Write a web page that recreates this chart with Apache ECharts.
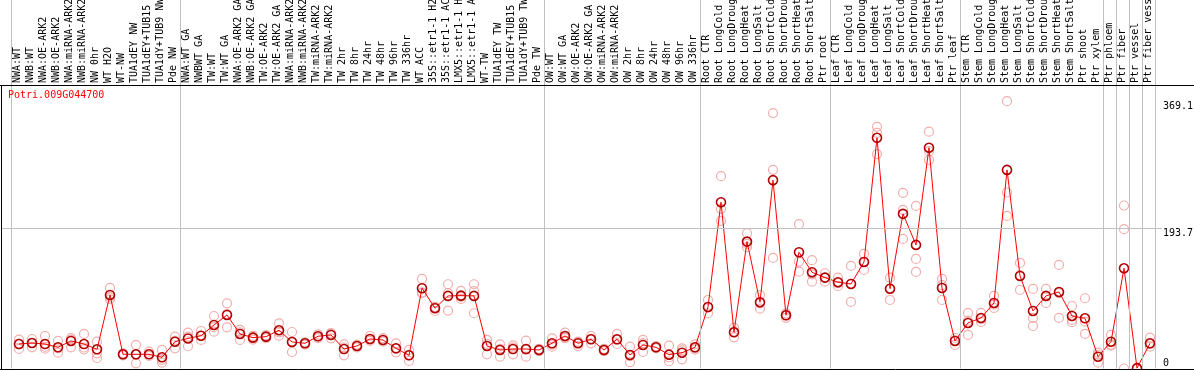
<!DOCTYPE html>
<html>
<head>
<meta charset="utf-8">
<script src="https://cdn.jsdelivr.net/npm/echarts@6/dist/echarts.min.js"></script>
<style>
html,body{margin:0;padding:0;background:#fff;}
#c{width:1194px;height:370px;}
</style>
</head>
<body>
<div id="c"></div>
<script>
const geneName = 'Potri.009G044700';
const categories = [
 'NWA:WT','NWB:WT','NWA:OE-ARK2','NWB:OE-ARK2','NWA:miRNA-ARK2','NWB:miRNA-ARK2','NW 0hr','WT H2O','WT-NW','TUA1dEY NW','TUA1dEY+TUB15 NW','TUA1dY+TUB9 NW','Pde NW',
 'NWA:WT GA','NWBWT GA','TW:WT','TW:WT GA','NWA:OE-ARK2 GA','NWB:OE-ARK2 GA','TW:OE-ARK2','TW:OE-ARK2 GA','NWA:miRNA-ARK2','NWB:miRNA-ARK2','TW:miRNA-ARK2','TW:miRNA-ARK2',
 'TW 2hr','TW 8hr','TW 24hr','TW 48hr','TW 96hr','TW 336hr','WT ACC','35S::etr1-1 H2O','35S::etr1-1 ACC','LMX5::etr1-1 H2O','LMX5::etr1-1 ACC','WT-TW','TUA1dEY TW','TUA1dEY+TUB15 TW','TUA1dY+TUB9 TW','Pde TW',
 'OW:WT','OW:WT GA','OW:OE-ARK2','OW:OE-ARK2 GA','OW:miRNA-ARK2','OW:miRNA-ARK2','OW 2hr','OW 8hr','OW 24hr','OW 48hr','OW 96hr','OW 336hr',
 'Root CTR','Root LongCold','Root LongDrought','Root LongHeat','Root LongSalt','Root ShortCold','Root ShortDrought','Root ShortHeat','Root ShortSalt','Ptr root',
 'Leaf CTR','Leaf LongCold','Leaf LongDrought','Leaf LongHeat','Leaf LongSalt','Leaf ShortCold','Leaf ShortDrought','Leaf ShortHeat','Leaf ShortSalt','Ptr leaf',
 'Stem CTR','Stem LongCold','Stem LongDrought','Stem LongHeat','Stem LongSalt','Stem ShortCold','Stem ShortDrought','Stem ShortHeat','Stem ShortSalt','Ptr shoot',
 'Ptr xylem','Ptr phloem','Ptr fiber','Ptr vessel','Ptr fiber vessel'
];
const means = [
 33.8,35.2,33.8,29.3,38,33.8,26.5,101.5,19.6,19.6,19.6,15.5,37,
 41.5,45.3,60.1,73.9,47.7,42.6,44,52.8,36.6,34.8,44.5,46.3,
 26.9,31.1,40.8,39.4,27.9,18.2,110.8,83.2,100.2,100.6,100.2,31.1,25.6,26.9,26.9,25.6,
 34.8,44.9,34.8,40.3,25.6,40.3,18.7,32.5,29.3,19.1,21.8,29.3,
 85,229.6,50,175.2,91.5,260,73.5,160.5,132.9,125.5,
 119.1,116.7,147.1,318.5,110.2,213.5,170.6,304.8,111.2,38,
 62.9,69.8,90.5,274.2,127.8,79.4,100.2,105.7,72.5,69.3,
 16.3,37,138.4,0.5,34.8
];
const replicates = [
 [40,27,34],[40.7,29.3,35],[44.9,27.4,30],[38,21.9,28],[42.1,29.3,40],[47.7,26.5,29],[37,21,14.5],[111.2,95.6,98],[19.6,21,18],[32.5,7.2,19],[23.2,17.3,20],[25.6,8,12],[44,27.9,38],
 [49.5,30.7,44],[51.8,39.4,45],[72.5,50.8,57],[90,56.9,75],[53.2,39.4,50],[45,40,43],[46,42,44],[62.4,45.3,50],[50.4,22.8,37],[36,33,35],[47,42,44.5],[48,41.7,49],
 [33.4,18.2,29],[33,29,31],[44.9,38,40],[42,37,39],[34.8,22.4,27],[25.6,10.4,18.5],[123.7,103.9,105],[85,79.4,84],[116.3,79.9,104],[107.1,99,96],[116.3,106.7,76.3],[39.4,19.6,34],[33.4,16.3,27],[29,19.6,32],[38.4,16.3,26],[27,24,26],
 [41.7,30.1,33],[49.5,42,43],[37,31,36],[44.9,34.8,41],[27,24,26],[47.7,33.8,40],[30.1,8.6,17],[39.4,22.8,35],[31,28,29],[31.5,15.5,10],[27.9,12.7,25],[33.4,26,28],
 [94.6,76.3,84],[265.5,220.4,203.8],[56.4,43.1,51],[186.8,167.5,172],[101.5,82.6,90],[352.6,274.3,152.7],[76,70,74],[199.2,147.6,133.7],[149.5,119.9,130],[131.5,119.9,125],
 [125.4,114,118],[141.6,91.9,117],[158.2,136,147],[333.7,325.4,296],[125.4,94.6,110],[242.5,178.9,219],[224.5,151.3,133.3],[326.9,288,300],[123.7,94.6,115],[42.1,32.5,39],
 [76.7,46.3,66],[76.7,64.2,68],[100.2,83.6,88],[369.1,210.7,243],[145.8,108.4,129],[109.8,69.8,58.7],[109.8,90.5,100],[143,69.8,104],[86.3,67,64],[97,64.7,47.7],
 [21.8,8,19],[46.3,31.5,33],[225,192.3,0],[0,0.5,0.3],[42.6,30.1,34]
];
const yTickLabels = [0, 193.7, 369.1];
const gridLineValues = [193.7];
const separatorBefore = [0,13,41,53,63,73,84,85,86,87,88];

const YMAX = 390;
const MONO = "'DejaVu Sans Mono', 'Liberation Mono', monospace";
const N = categories.length;
const CELL = 13;

const repData = [];
replicates.forEach((arr, i) => arr.forEach(v => repData.push([i, v])));

const chart = echarts.init(document.getElementById('c'), null, {renderer: 'canvas'});
chart.setOption({
  animation: false,
  backgroundColor: '#fff',
  title: {
    text: geneName, left: 8, top: 90, padding: 0,
    textStyle: {color: '#ff0000', fontSize: 10, fontWeight: 'normal', fontFamily: MONO}
  },
  grid: [
    {left: 11.5, width: N * CELL, top: 0, bottom: 1.5, outerBoundsMode: 'none', containLabel: false},
    {left: 11, width: N * CELL, top: 86, bottom: 1.5, outerBoundsMode: 'none', containLabel: false},
    {left: 12.5, width: N * CELL, top: 86, bottom: 1.5, outerBoundsMode: 'none', containLabel: false},
    {left: 2, right: 32, top: 86, bottom: 1.5, outerBoundsMode: 'none', containLabel: false}
  ],
  xAxis: [
    {gridIndex: 0, type: 'value', min: 0, max: N, show: false},
    {gridIndex: 1, type: 'category', data: categories, position: 'top', boundaryGap: true,
     axisLine: {show: false}, axisTick: {show: false}, splitLine: {show: false},
     axisLabel: {interval: 0, rotate: 90, margin: 3, color: '#000', fontSize: 10, fontFamily: MONO, hideOverlap: false}},
    {gridIndex: 2, type: 'category', data: categories, boundaryGap: true, show: false},
    {gridIndex: 3, type: 'value', min: 0, max: 1, show: false}
  ],
  yAxis: [
    {gridIndex: 0, type: 'value', min: 0, max: 1, show: false},
    {gridIndex: 1, type: 'value', min: 0, max: 1, show: false},
    {gridIndex: 2, type: 'value', min: 0, max: YMAX, show: false},
    {gridIndex: 3, type: 'value', min: 0, max: YMAX, position: 'right',
     axisLine: {show: false}, axisTick: {show: false}, splitLine: {show: false},
     axisLabel: {customValues: yTickLabels.filter(v => v > 0), verticalAlign: 'top', margin: 1,
       color: '#000', fontSize: 10, fontFamily: MONO, formatter: v => String(v)}},
    {gridIndex: 3, type: 'value', min: 0, max: YMAX, position: 'right',
     axisLine: {show: false}, axisTick: {show: false}, splitLine: {show: false},
     axisLabel: {customValues: yTickLabels.filter(v => v === 0), verticalAlign: 'bottom', margin: 1,
       color: '#000', fontSize: 10, fontFamily: MONO, formatter: v => String(v)}}
  ],
  graphic: [
    {type: 'line', shape: {x1: 0, y1: 85.5, x2: 1194, y2: 85.5}, style: {stroke: '#000', lineWidth: 1}, z: 100},
    {type: 'line', shape: {x1: 1.5, y1: 86, x2: 1.5, y2: 369}, style: {stroke: '#000', lineWidth: 1}, z: 100},
    {type: 'line', shape: {x1: 0, y1: 369.5, x2: 1194, y2: 369.5}, style: {stroke: '#000', lineWidth: 1}, z: 100}
  ],
  series: [
    {type: 'line', xAxisIndex: 0, yAxisIndex: 0, data: [], silent: true,
     markLine: {silent: true, symbol: 'none', label: {show: false},
       lineStyle: {color: '#c0c0c0', width: 1, type: 'solid'},
       data: separatorBefore.map(k => ({xAxis: k}))}},
    {type: 'line', xAxisIndex: 3, yAxisIndex: 3, data: [], silent: true,
     markLine: {silent: true, symbol: 'none', label: {show: false},
       lineStyle: {color: '#c0c0c0', width: 1, type: 'solid'},
       data: gridLineValues.map(v => ({yAxis: v}))}},
    {type: 'scatter', xAxisIndex: 2, yAxisIndex: 2, data: repData, symbol: 'circle', symbolSize: 9,
     itemStyle: {color: 'rgba(0,0,0,0)', borderColor: '#f09a9a', borderWidth: 1.2}, z: 3},
    {type: 'line', xAxisIndex: 2, yAxisIndex: 2, data: means, symbol: 'circle', symbolSize: 9, showAllSymbol: true,
     lineStyle: {color: '#ff0000', width: 1},
     itemStyle: {color: 'rgba(0,0,0,0)', borderColor: '#b00000', borderWidth: 1.6}, z: 4}
  ]
});
</script>
</body>
</html>
